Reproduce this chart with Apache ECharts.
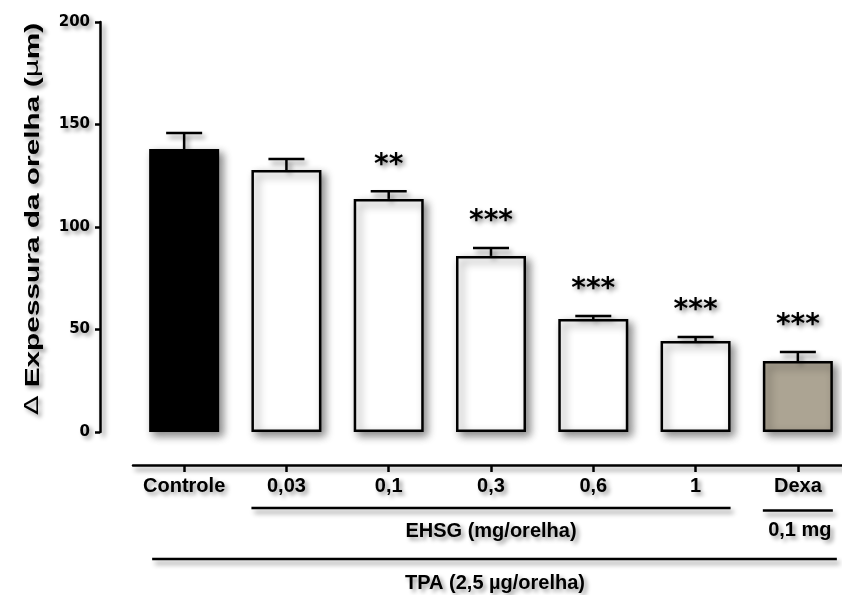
<!DOCTYPE html>
<html><head><meta charset="utf-8">
<script src="https://cdn.jsdelivr.net/npm/echarts@6/dist/echarts.min.js"></script>
<style>html,body{margin:0;padding:0;background:#fff}#c{width:842px;height:595px}</style>
</head><body><div id="c"></div>
<script>
const categories = ['Controle', '0,03', '0,1', '0,3', '0,6', '1', 'Dexa'];
const means = [138, 127.8, 113.7, 85.9, 55.1, 44.4, 34.6];
const errors = [7.9, 5.4, 3.7, 3.9, 1.5, 1.9, 4.4];
const significance = ['', '', '**', '***', '***', '***', '***'];
const barColors = ['#000000', '#ffffff', '#ffffff', '#ffffff', '#ffffff', '#ffffff', '#aca493'];
const yTicks = [0, 50, 100, 150, 200];
const yTitle = '{s|Δ} Expessura da orelha ({s|μ}m)';
const groupLabels = ['EHSG (mg/orelha)', '0,1 mg', 'TPA (2,5 µg/orelha)'];

const SH = 'rgba(0,0,0,0.45)';
const textShadow = {textShadowColor: 'rgba(0,0,0,0.4)', textShadowBlur: 4, textShadowOffsetX: 3, textShadowOffsetY: 3};
const lineShadow = {shadowColor: SH, shadowBlur: 5, shadowOffsetX: 3, shadowOffsetY: 4};
const FONT = 'Liberation Sans';

const chart = echarts.init(document.getElementById('c'));
const option = {
  backgroundColor: '#fff',
  animation: false,
  grid: {left: 133, top: 22, width: 716, height: 410, outerBoundsMode: 'none', containLabel: false},
  xAxis: {
    type: 'category', data: categories, offset: 33,
    axisLine: {show: true, onZero: false, lineStyle: Object.assign({color: '#000', width: 2.5}, lineShadow)},
    axisTick: {show: true, alignWithLabel: true, length: 7, lineStyle: {color: '#000', width: 2.5}},
    axisLabel: Object.assign({interval: 0, color: '#000', fontFamily: FONT, fontWeight: 'bold', fontSize: 20, margin: 11}, textShadow),
    splitLine: {show: false}
  },
  yAxis: {
    type: 'value', min: yTicks[0], max: yTicks[yTicks.length - 1], interval: yTicks[1] - yTicks[0], offset: 33,
    axisLine: {show: true, onZero: false, lineStyle: Object.assign({color: '#000', width: 2.5}, lineShadow)},
    axisTick: {show: true, length: 5, lineStyle: {color: '#000', width: 2.5}},
    axisLabel: Object.assign({color: '#000', fontFamily: 'DejaVu Sans', fontWeight: 'bold', fontSize: 15, margin: 10}, textShadow),
    splitLine: {show: false}
  },
  series: [
    {
      type: 'bar', barWidth: 70, z: 2,
      data: means.map((v, i) => ({value: v, itemStyle: {color: barColors[i]}})),
      itemStyle: {borderColor: '#000', borderWidth: 2.5, shadowColor: SH, shadowBlur: 8, shadowOffsetX: 4, shadowOffsetY: 4}
    },
    {
      type: 'custom', z: 3,
      data: means.map((v, i) => [i, v, errors[i]]),
      encode: {x: 0, y: 1},
      renderItem: function (params, api) {
        const i = api.value(0);
        const top = api.coord([i, api.value(1)]);
        const err = api.coord([i, api.value(1) + api.value(2)]);
        const half = 18;
        const ls = Object.assign({stroke: '#000', lineWidth: 2.5}, lineShadow);
        return {type: 'group', children: [
          {type: 'line', shape: {x1: top[0], y1: top[1], x2: err[0], y2: err[1]}, style: ls},
          {type: 'line', shape: {x1: err[0] - half, y1: err[1], x2: err[0] + half, y2: err[1]}, style: ls},
          {type: 'text', style: Object.assign({
            text: significance[params.dataIndex], x: err[0], y: err[1] - 12,
            align: 'center', verticalAlign: 'bottom',
            fontFamily: 'DejaVu Sans', fontWeight: 'bold', fontSize: 28, fill: '#000'
          }, textShadow)}
        ]};
      }
    }
  ]
};
chart.setOption(option);

const px = i => chart.convertToPixel({xAxisIndex: 0}, categories[i]);
const half = 35;
const txt = (text, x, y) => ({type: 'text', x: x, y: y, style: Object.assign({
  text: text, align: 'center', verticalAlign: 'middle', fontFamily: FONT, fontWeight: 'bold', fontSize: 20, fill: '#000'
}, textShadow)});
const hline = (x1, x2, y) => ({type: 'line', shape: {x1: x1, y1: y, x2: x2, y2: y},
  style: Object.assign({stroke: '#000', lineWidth: 2.5}, lineShadow)});

chart.setOption({graphic: [
  hline(px(1) - half, px(5) + half, 508),
  txt(groupLabels[0], (px(1) + px(5)) / 2, 531),
  hline(px(6) - half, px(6) + half, 510.5),
  txt(groupLabels[1], px(6) + 2, 530),
  hline(px(0) - 32, px(6) + 39, 559),
  txt(groupLabels[2], (px(0) + px(6)) / 2 + 4, 583),
  {type: 'text', x: 33, y: 219, rotation: Math.PI / 2, scaleX: 1.42, scaleY: 1,
    style: Object.assign({text: yTitle, align: 'center', verticalAlign: 'middle',
      fontFamily: FONT, fontWeight: 'bold', fontSize: 21, fill: '#000',
      rich: {s: Object.assign({fontFamily: 'DejaVu Sans', fontWeight: 'normal', fontSize: 20, fill: '#000'}, textShadow)}
    }, textShadow)}
]});
</script>
</body></html>
